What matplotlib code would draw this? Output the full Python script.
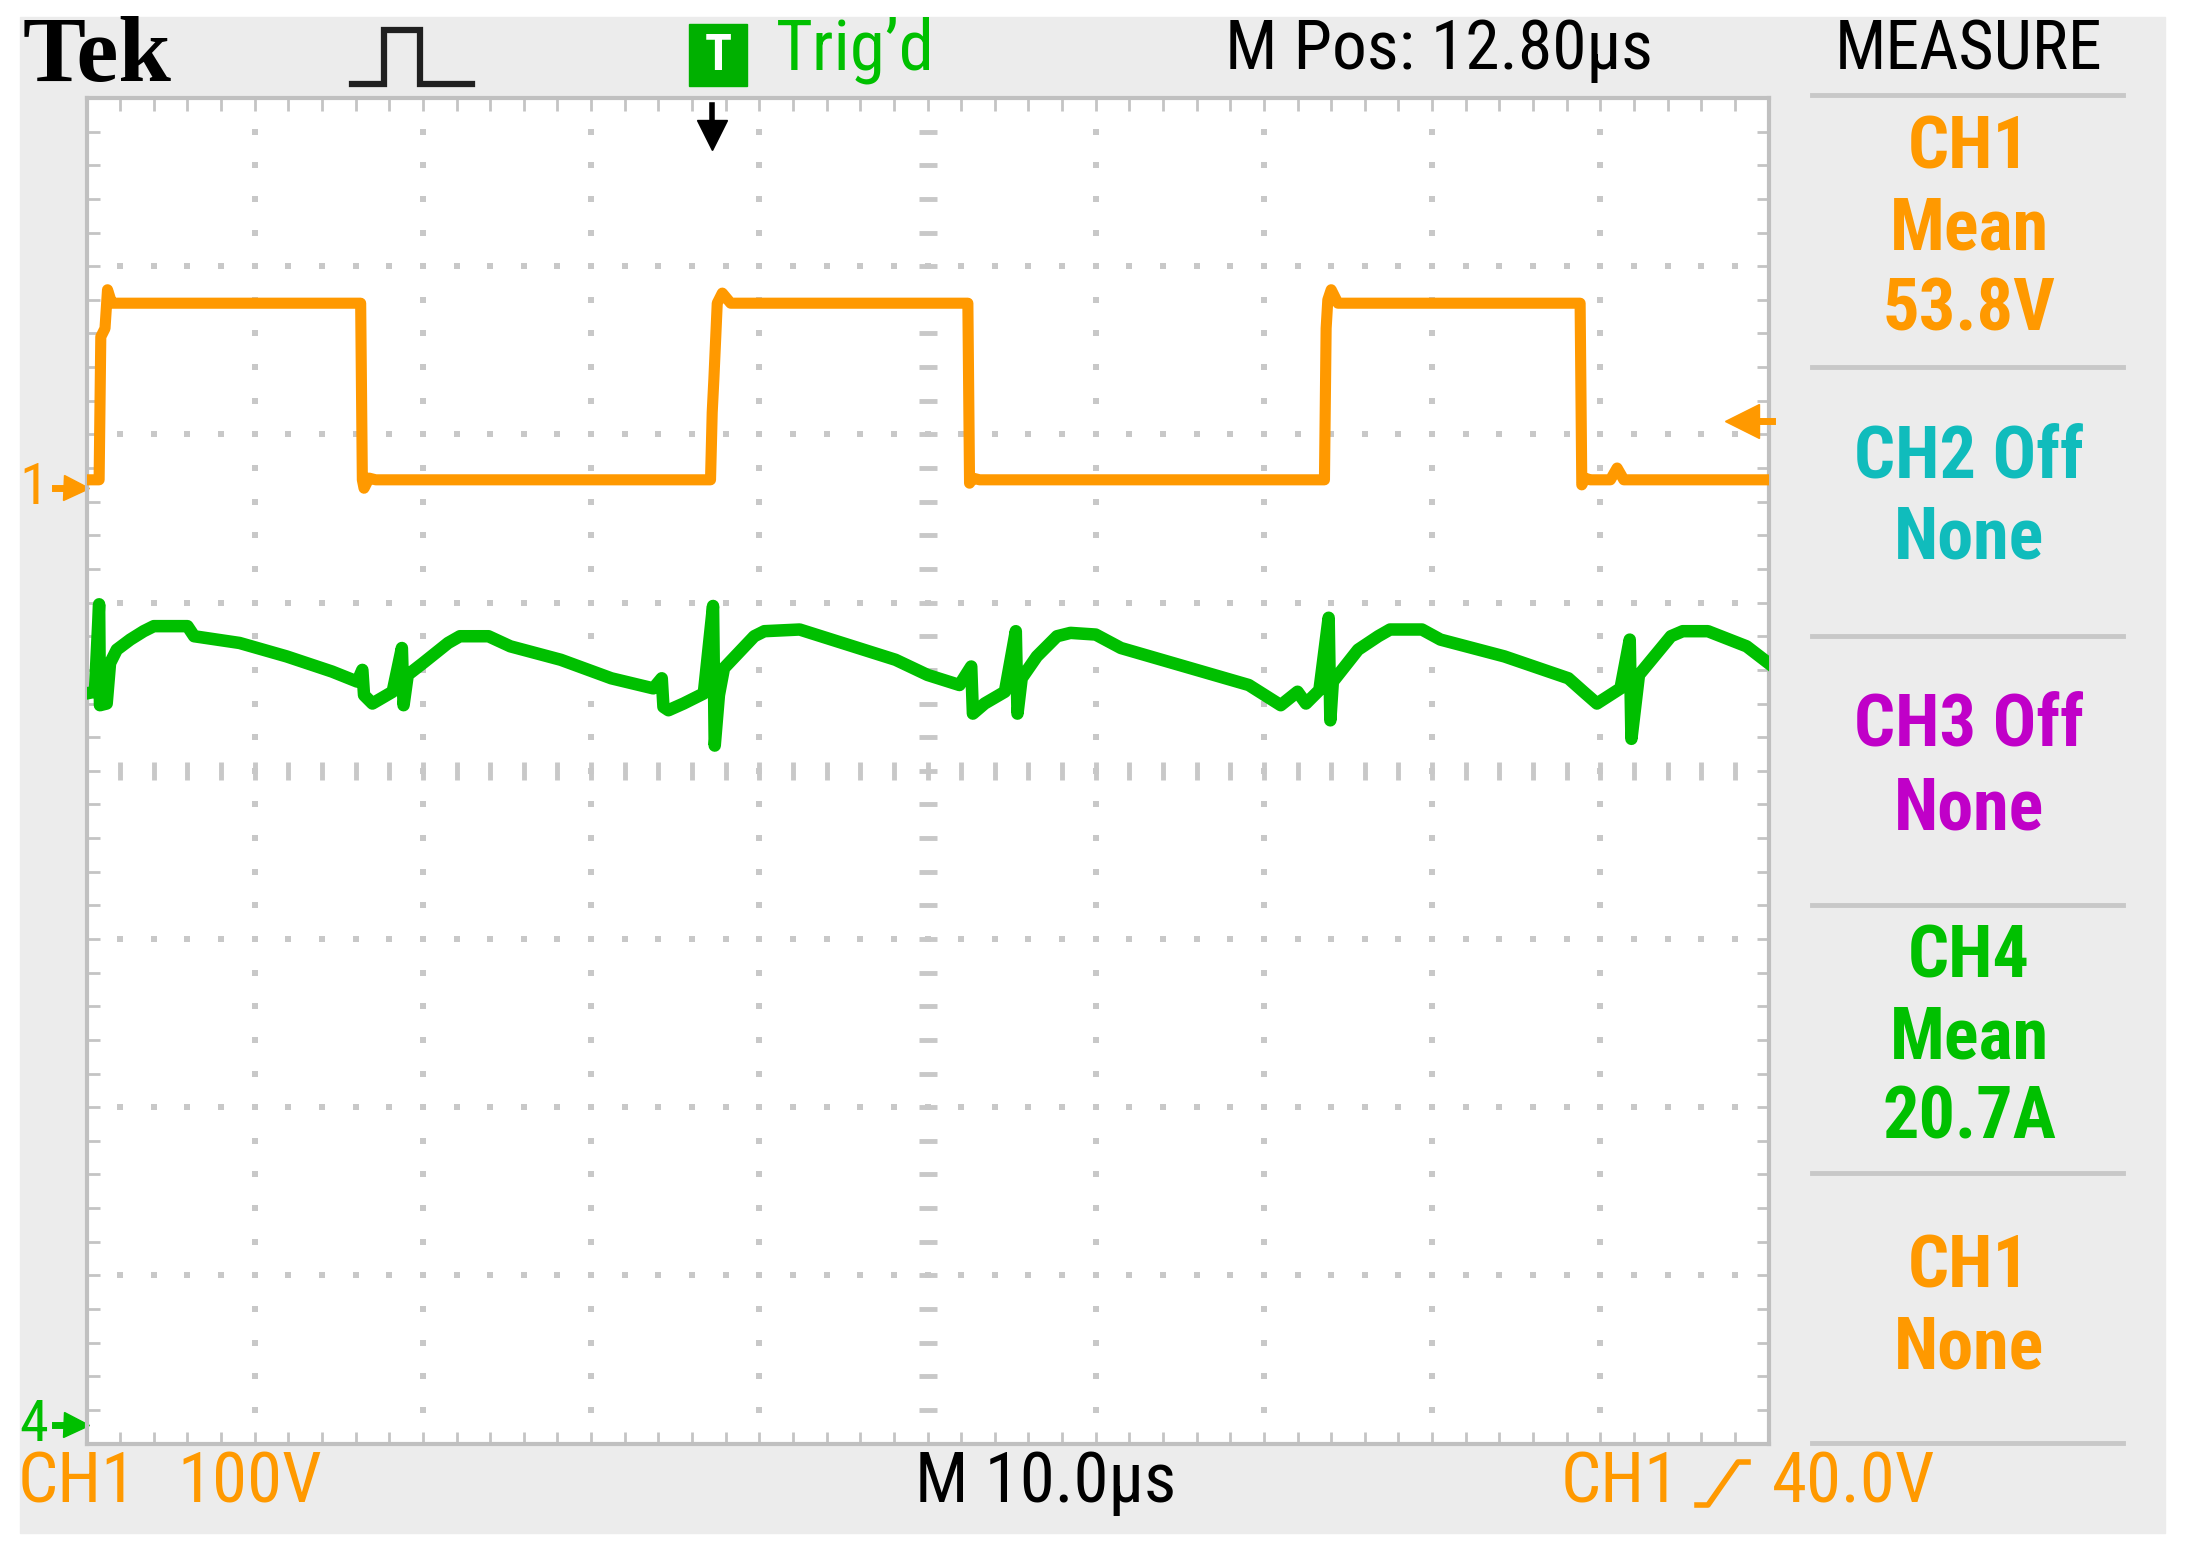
import matplotlib
matplotlib.use("Agg")
import matplotlib.pyplot as plt
import numpy as np
from matplotlib import font_manager
from matplotlib.patches import Rectangle

# CH1 (orange), 100 V/div, values in volts
ch1_time_us = [0.0, 0.75, 0.85, 1.1, 1.25, 1.5, 1.9, 16.3, 16.4, 16.5, 16.8, 17.2,
               37.1, 37.2, 37.3, 37.5, 37.8, 38.3, 52.4, 52.5, 52.7, 53.1,
               73.6, 73.7, 73.8, 74.0, 74.4, 88.8, 88.9, 89.1, 89.4, 90.6, 91.0, 91.4, 100.0]
ch1_volts = [5, 5, 90, 95, 118, 110, 110, 110, 5, 0, 6, 5,
             5, 45, 65, 110, 116, 110, 110, 3, 6, 5,
             5, 95, 112, 118, 110, 110, 2, 6, 5, 5, 12, 5, 5]

# CH4 (green) in divisions
ch4_time_us = [0.0, 0.5, 0.75, 0.8, 1.2, 1.4, 1.8, 2.6, 3.4, 4.0, 6.0, 6.4, 9.1, 11.9, 14.6,
               16.1, 16.4, 16.5, 17.0, 18.2, 18.75, 18.85, 19.1, 20.0, 21.5, 22.2, 23.9,
               25.2, 28.2, 31.2, 33.7, 34.2, 34.3, 34.6, 35.5, 36.7, 37.25, 37.35, 37.6,
               37.9, 39.7, 40.3, 42.4, 44.3, 46.2, 48.1, 50.0, 51.9, 52.6, 52.7, 53.4,
               54.6, 55.25, 55.35, 55.6, 56.5, 57.7, 58.5, 60.0, 61.5, 65.3, 69.1, 71.0,
               72.0, 72.5, 73.3, 73.85, 73.95, 74.1, 75.6, 76.8, 77.5, 79.4, 80.5, 84.3,
               88.1, 89.0, 89.8, 91.2, 91.75, 91.85, 92.3, 94.2, 94.9, 96.4, 98.7, 100.0]
ch4_div = [0.46, 0.47, 0.99, 0.39, 0.40, 0.64, 0.72, 0.78, 0.83, 0.86, 0.86, 0.80, 0.76, 0.68, 0.59,
           0.53, 0.60, 0.45, 0.40, 0.47, 0.73, 0.39, 0.57, 0.64, 0.76, 0.80, 0.80,
           0.74, 0.66, 0.55, 0.49, 0.55, 0.38, 0.36, 0.40, 0.46, 0.98, 0.15, 0.45,
           0.61, 0.80, 0.83, 0.84, 0.78, 0.72, 0.66, 0.57, 0.51, 0.62, 0.34, 0.40,
           0.47, 0.83, 0.34, 0.55, 0.68, 0.80, 0.82, 0.81, 0.73, 0.62, 0.51, 0.39,
           0.47, 0.40, 0.48, 0.91, 0.30, 0.53, 0.72, 0.80, 0.84, 0.84, 0.78, 0.68,
           0.55, 0.47, 0.40, 0.49, 0.78, 0.19, 0.57, 0.80, 0.83, 0.83, 0.74, 0.64]

ch1_volts_per_div = 100.0
ch1_ground_div = 1.68
ch4_ground_div = -3.89
trigger_pos_us = 37.2
trigger_level_v = 40.0

measure_blocks = [
    (["CH1", "Mean", "53.8V"], "#ff9900"),
    (["CH2 Off", "None"], "#10bcbc"),
    (["CH3 Off", "None"], "#c000c8"),
    (["CH4", "Mean", "20.7A"], "#00c000"),
    (["CH1", "None"], "#ff9900"),
]

ORANGE = "#ff9900"
GREEN = "#00bf00"
GRID = "#c8c8c8"
PANEL = "#ececec"

names = {f.name for f in font_manager.fontManager.ttflist}
narrow = next((n for n in ["Liberation Sans Narrow", "Roboto Condensed", "DejaVu Sans"] if n in names), "DejaVu Sans")
stretch = "condensed"

W, H = 2190, 1557
fig = plt.figure(figsize=(W / 100, H / 100), dpi=100)
fig.patch.set_facecolor("white")

# background layer in pixel coordinates (y down)
bg = fig.add_axes([0, 0, 1, 1])
bg.set_xlim(0, W)
bg.set_ylim(H, 0)
bg.axis("off")
bg.add_patch(Rectangle((20, 17), 2145, 1516, color=PANEL, zorder=0))

# scope screen: 10 div x 8 div, 10 us/div
x0, y0, px_div = 86.5, 98.0, 168.2
ax = fig.add_axes([x0 / W, 1 - (y0 + 8 * px_div) / H, 10 * px_div / W, 8 * px_div / H])
ax.set_facecolor("white")
ax.set_xlim(0, 100)
ax.set_ylim(-4, 4)
for s in ax.spines.values():
    s.set_color("#c0c0c0")
    s.set_linewidth(3)
ax.set_xticks(np.arange(0, 101, 2))
ax.set_yticks(np.arange(-4, 4.01, 0.2))
ax.tick_params(direction="in", length=9, width=2, colors="#c4c4c4",
               top=True, right=True, labelbottom=False, labelleft=False)

# dotted graticule
minor_y = np.arange(-3.8, 4.0, 0.2)
minor_x = np.arange(2, 100, 2)
for gx in range(10, 100, 10):
    if gx == 50:
        continue
    ax.plot(np.full_like(minor_y, gx), minor_y, ls="none", marker="s", ms=4.5, mew=0, color=GRID, zorder=1)
for gy in [-3, -2, -1, 1, 2, 3]:
    ax.plot(minor_x, np.full_like(minor_x, gy, dtype=float), ls="none", marker="s", ms=4.5, mew=0, color=GRID, zorder=1)
ax.plot(minor_x, np.zeros_like(minor_x, dtype=float), ls="none", marker="|", ms=13, mew=3.5, color=GRID, zorder=1)
ax.plot(np.full_like(minor_y, 50), minor_y, ls="none", marker="_", ms=13, mew=3.5, color=GRID, zorder=1)

# traces
ch1_screen = np.array(ch1_volts) / ch1_volts_per_div + ch1_ground_div
ax.plot(ch1_time_us, ch1_screen, color=ORANGE, lw=8, solid_joinstyle="round", zorder=3)
ax.plot(ch4_time_us, ch4_div, color=GREEN, lw=9, solid_joinstyle="round", zorder=3)

# trigger position marker (top) and trigger level marker (right)
ax.plot([trigger_pos_us, trigger_pos_us], [3.96, 3.8], color="black", lw=4, zorder=4)
ax.plot(trigger_pos_us, 3.78, marker="v", ms=22, color="black", zorder=4)
tl = trigger_level_v / ch1_volts_per_div + ch1_ground_div
ax.plot([98.6, 100.2], [tl, tl], color=ORANGE, lw=5, zorder=4, clip_on=False)
ax.plot(98.4, tl, marker="<", ms=24, color=ORANGE, zorder=4, clip_on=False)

# channel ground markers on the left
for lab, lvl, col in [("1", ch1_ground_div, ORANGE), ("4", ch4_ground_div, GREEN)]:
    ax.plot([-1.9, -0.8], [lvl, lvl], color=col, lw=5, clip_on=False)
    ax.plot(-0.6, lvl, marker=">", ms=18, color=col, clip_on=False)
    ax.text(-2.3, lvl, lab, color=col, fontsize=42, family=narrow, fontstretch=stretch,
            ha="right", va="center", clip_on=False)

# header
bg.text(23, 58, "Tek", fontsize=68, family="Liberation Serif", weight="bold", va="center", ha="left")
bg.plot([352, 384, 384, 420, 420, 472], [84, 84, 30, 30, 84, 84], color="#202020", lw=4.5,
        solid_joinstyle="miter")
bg.add_patch(Rectangle((689, 24), 58, 62, color="#00b000", zorder=2))
bg.text(718, 56, "T", color="white", fontsize=36, weight="bold", family=narrow, ha="center", va="center", zorder=3)
bg.text(776, 50, "Trig\u2019d", color="#00c000", fontsize=51, family=narrow, fontstretch=stretch,
        ha="left", va="center")
bg.text(1225, 50, "M Pos: 12.80\u00b5s", color="black", fontsize=50, family=narrow, fontstretch=stretch,
        ha="left", va="center")
bg.text(1969, 50, "MEASURE", color="black", fontsize=49, family=narrow, fontstretch=stretch,
        ha="center", va="center")

# measure panel
for yy in [95, 367, 636, 905, 1173, 1443]:
    bg.plot([1812, 2123], [yy, yy], color="#c8c8c8", lw=3.5)
block_rows = [[149, 230, 311], [458, 539], [726, 810], [958, 1039, 1119], [1268, 1349]]
for (lines, col), rows in zip(measure_blocks, block_rows):
    for txt, yy in zip(lines, rows):
        bg.text(1969, yy, txt, color=col, fontsize=52, family=narrow, fontstretch=stretch, weight="bold",
                ha="center", va="center")

# footer
foot = dict(fontsize=51, family=narrow, fontstretch=stretch, ha="left", va="center")
bg.text(18, 1483, "CH1", color=ORANGE, **foot)
bg.text(177, 1483, "100V", color=ORANGE, **foot)
bg.text(915, 1483, "M 10.0\u00b5s", color="black", **foot)
bg.text(1561, 1483, "CH1", color=ORANGE, **foot)
bg.plot([1697, 1708, 1738, 1748], [1505, 1505, 1462, 1462], color=ORANGE, lw=4)
bg.text(1772, 1483, "40.0V", color=ORANGE, **foot)

fig.savefig("out.png", dpi=100, facecolor="white")
